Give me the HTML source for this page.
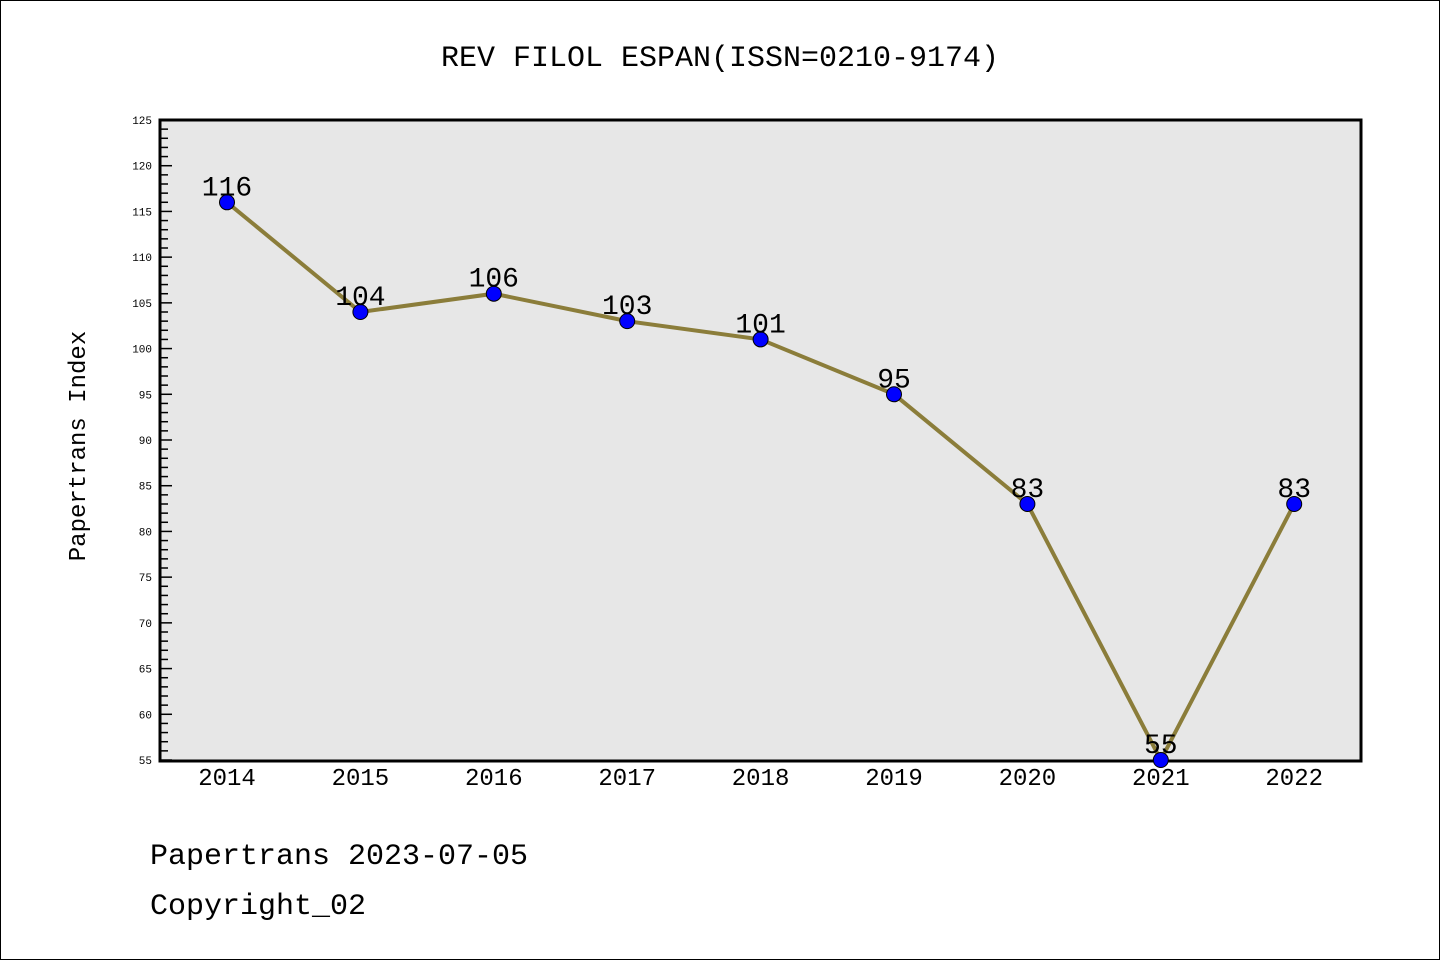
<!DOCTYPE html>
<html><head><meta charset="utf-8"><style>
html,body{margin:0;padding:0;background:#fff}
svg{display:block}
text{font-family:"Liberation Mono","DejaVu Sans Mono",monospace}
</style></head><body>
<svg id="chart" width="1440" height="960">
<rect x="0.5" y="0.5" width="1439" height="959" fill="#fff" stroke="#000"/>
<text x="720" y="66" text-anchor="middle" font-size="30">REV FILOL ESPAN(ISSN=0210-9174)</text>
<rect x="160" y="120" width="1201" height="641" fill="#e7e7e7" stroke="#000" stroke-width="3"/>
<text transform="translate(85,446) rotate(-90)" text-anchor="middle" font-size="24">Papertrans Index</text>
<g id="yticks"></g><g id="xlabels"></g><g id="series"></g>
<text x="150" y="864" font-size="30">Papertrans 2023-07-05</text>
<text x="150" y="914" font-size="30">Copyright_02</text>
</svg>
<script>
const years=["2014","2015","2016","2017","2018","2019","2020","2021","2022"];
const values=[116,104,106,103,101,95,83,55,83];
const yMin=55,yMax=125;
const NS="http://www.w3.org/2000/svg";
function y(v){return 760-(v-yMin)*(640/(yMax-yMin));}
function x(i){return 227+i*133.4;}
function mk(t,a,p){const e=document.createElementNS(NS,t);for(const k in a)e.setAttribute(k,a[k]);p.appendChild(e);return e;}
const yt=document.getElementById('yticks');
for(let v=yMin;v<=yMax;v++){
  const major=v%5===0;
  const l=mk('line',{x1:160,x2:major?172:168,y1:y(v),y2:y(v),stroke:'#000','stroke-width':1.5},yt);
  
  
  if(major){
    const t=mk('text',{x:152,y:y(v)+4,'text-anchor':'end','font-size':11},yt);
    t.textContent=v;
    
    
  }
}
const xl=document.getElementById('xlabels');
years.forEach((yr,i)=>{
  const t=mk('text',{x:x(i),y:785,'text-anchor':'middle','font-size':24},xl);
  t.textContent=yr;
  
  
});
const s=document.getElementById('series');
const pl=mk('polyline',{points:values.map((v,i)=>x(i)+','+y(v)).join(' '),fill:'none',stroke:'#8b7d3a','stroke-width':4},s);


values.forEach((v,i)=>{
  const c=mk('circle',{cx:x(i),cy:y(v),r:7.5,fill:'#0000ff',stroke:'#000','stroke-width':1},s);
  
  
  const t=mk('text',{x:x(i),y:y(v)-7,'text-anchor':'middle','font-size':28,'font-family':'"Liberation Sans",sans-serif'},s);
  t.textContent=v;
  
  
});
</script>
</body></html>
